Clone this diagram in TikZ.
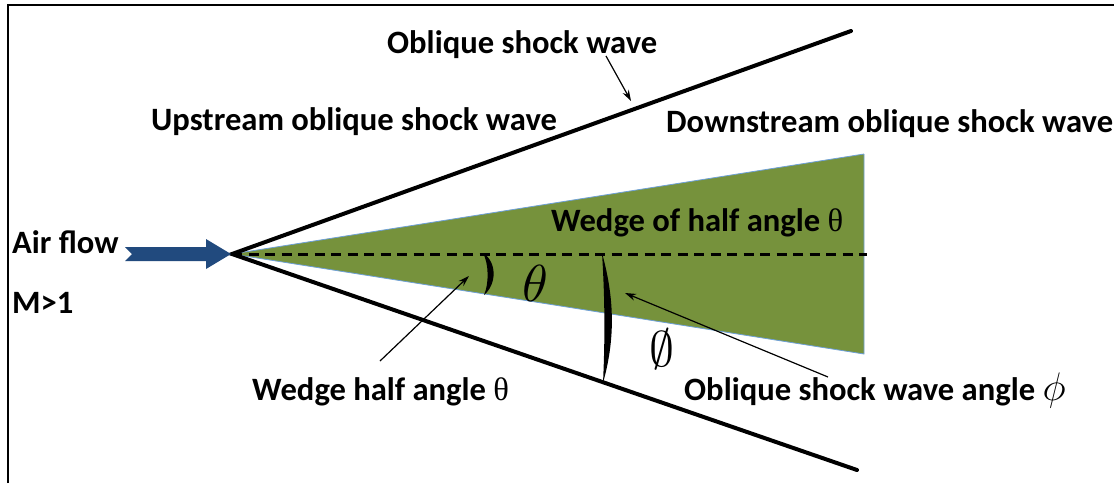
\documentclass[tikz,border=0pt]{standalone}
\usepackage{fontspec}
\usepackage{graphicx}
\setmainfont{Carlito}
\newfontfamily\greekserif{Liberation Serif}
\usetikzlibrary{arrows.meta}
\definecolor{wedgegreen}{RGB}{118,146,60}
\definecolor{wedgeedge}{RGB}{110,160,215}
\definecolor{flowblue}{RGB}{33,74,126}
\tikzset{
  lbl/.style={font=\fontsize{32.6}{38}\selectfont\bfseries, inner sep=0pt, anchor=base west},
  shock/.style={line width=4pt, line cap=round},
  pointer/.style={line width=1.2pt, -{Stealth[length=11pt,width=7pt]}},
}
\begin{document}
\begin{tikzpicture}[x=1pt,y=-1pt]
\useasboundingbox (0,0) rectangle (1114,483);
\fill[white] (0,0) rectangle (1114,483);
% frame (left and top)
\draw[line width=2.5pt] (8,483) -- (8,5) -- (1114,5);
% wedge
\coordinate (apex) at (232,254);
\coordinate (wtop) at (864,154);
\coordinate (wbot) at (864,354);
\fill[wedgegreen] (apex) -- (wtop) -- (wbot) -- cycle;
\draw[wedgeedge, line width=0.8pt] (wtop) -- (apex) -- (wbot) -- (wtop);
% centre line
\coordinate (cend) at (867,254);
\draw[line width=3pt, dash pattern=on 10pt off 6.5pt] (apex) -- (cend);
% shock lines
\coordinate (stop) at (851,31);
\coordinate (sbot) at (857,470);
\draw[shock] (stop) -- (apex) -- (sbot);
% air flow arrow
\fill[flowblue] (125,247) -- (206,247) -- (206,239) -- (231,254) -- (206,269) -- (206,261) -- (125,261) -- (132,254) -- cycle;
% angle arcs
\fill (483,253) .. controls (497,262) and (497,284) .. (484,295)
      .. controls (489,284) and (489,264) .. (483,253) -- cycle;
\fill (602,253) .. controls (615,300) and (615,340) .. (603,383)
      .. controls (605,340) and (605,300) .. (602,253) -- cycle;
% labels
\node[lbl] (osw) at (387,53) {Oblique shock wave};
\node[lbl] (up) at (151,130) {Upstream oblique shock wave};
\node[lbl] (down) at (666,132) {Downstream oblique shock wave};
\node[lbl] (wedge) at (551,231) {Wedge of half angle {\greekserif\mdseries θ}};
\node[lbl] (air) at (12,253) {Air flow};
\node[lbl] (mach) at (12,313) {M>1};
\node[lbl] (whalf) at (252,400) {Wedge half angle {\greekserif\mdseries θ}};
\node[lbl] (oswa) at (684,400) {Oblique shock wave angle \scalebox{1.6}{$\phi$}};
\node[scale=5.2, inner sep=0pt] (theta) at (535,283) {$\theta$};
\node[scale=5.0, inner sep=0pt] (phi) at (662,349) {$\emptyset$};
% pointers
\coordinate (p1) at (631,101);
\coordinate (p2) at (469,276);
\coordinate (p3) at (625,293);
\draw[pointer] (606,56) -- (p1);
\draw[pointer] (380,361) -- (p2);
\draw[pointer] (828,377) -- (p3);
\end{tikzpicture}
\end{document}
